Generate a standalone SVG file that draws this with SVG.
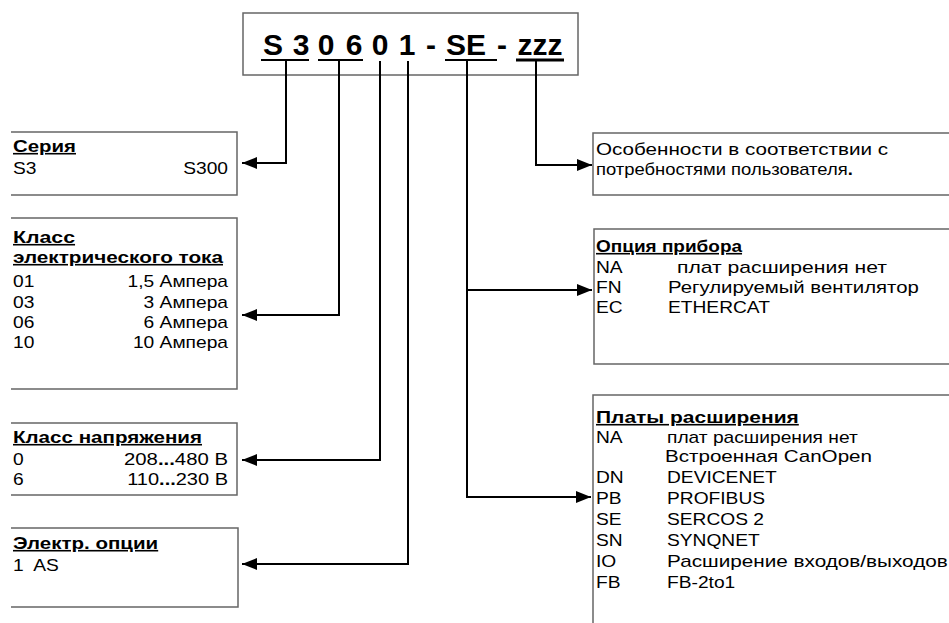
<svg xmlns="http://www.w3.org/2000/svg" width="949" height="623" viewBox="0 0 949 623">
<defs>
<marker id="arr" markerUnits="userSpaceOnUse" markerWidth="16" markerHeight="13" refX="15" refY="6.5" orient="auto">
<path d="M0,0.5 L15,6.5 L0,12.5 Z" fill="#000"/>
</marker>
<style>
text{font-family:"Liberation Sans",Arial,sans-serif;fill:#000}
.t{font-size:16px}
.b{font-size:16px;font-weight:bold;text-decoration:underline}
.e{text-anchor:end}
.big{font-size:30px;font-weight:bold;text-anchor:middle}
.box{fill:none;stroke:#666;stroke-width:1.5}
.ul{stroke:#000;stroke-width:2}
.con{fill:none;stroke:#000;stroke-width:2}
</style>
</defs>
<rect width="949" height="623" fill="#fff"/>

<g id="code">
<rect class="box" x="243" y="13" width="335" height="62"/>
<text class="big" x="273" y="55">S</text>
<text class="big" x="301" y="55">3</text>
<text class="big" x="326" y="55">0</text>
<text class="big" x="354" y="55">6</text>
<text class="big" x="380" y="55">0</text>
<text class="big" x="407" y="55">1</text>
<text class="big" x="431" y="55">-</text>
<text class="big" x="466" y="55">SE</text>
<text class="big" x="502" y="55">-</text>
<text class="big" x="540" y="55">zzz</text>
<line class="ul" x1="261" y1="60" x2="309" y2="60"/>
<line class="ul" x1="318" y1="60" x2="363" y2="60"/>
<line class="ul" x1="445" y1="60" x2="497" y2="60"/>
<line class="ul" x1="516" y1="60" x2="564" y2="60" style="stroke-width:3"/>
</g>

<g id="series">
<path class="box" d="M11,132 H237 V195 H11"/>
<text class="b" transform="matrix(1.2 0 0 1 13 152)" textLength="52.5" lengthAdjust="spacingAndGlyphs">Серия</text>
<text class="t" transform="matrix(1.2 0 0 1 13 174)">S3</text>
<text class="t e" transform="matrix(1.2 0 0 1 228 174)">S300</text>
</g>

<g id="current">
<path class="box" d="M11,218 H237 V389 H11"/>
<text class="b" transform="matrix(1.2 0 0 1 13 243)" textLength="51.7" lengthAdjust="spacingAndGlyphs">Класс</text>
<text class="b" transform="matrix(1.2 0 0 1 13 263)" textLength="175" lengthAdjust="spacingAndGlyphs">электрического тока</text>
<text class="t" transform="matrix(1.2 0 0 1 13 287)">01</text>
<text class="t e" transform="matrix(1.2 0 0 1 228 287)">1,5 Ампера</text>
<text class="t" transform="matrix(1.2 0 0 1 13 308)">03</text>
<text class="t e" transform="matrix(1.2 0 0 1 228 308)">3 Ампера</text>
<text class="t" transform="matrix(1.2 0 0 1 13 328)">06</text>
<text class="t e" transform="matrix(1.2 0 0 1 228 328)">6 Ампера</text>
<text class="t" transform="matrix(1.2 0 0 1 13 348)">10</text>
<text class="t e" transform="matrix(1.2 0 0 1 228 348)">10 Ампера</text>
</g>

<g id="voltage">
<path class="box" d="M11,423 H237 V495 H11"/>
<text class="b" transform="matrix(1.2 0 0 1 13 443)" textLength="157.5" lengthAdjust="spacingAndGlyphs">Класс напряжения</text>
<text class="t" transform="matrix(1.2 0 0 1 13 465)">0</text>
<text class="t e" transform="matrix(1.2 0 0 1 228 465)" textLength="86.7" lengthAdjust="spacingAndGlyphs">208<tspan font-weight="bold">...</tspan>480 В</text>
<text class="t" transform="matrix(1.2 0 0 1 13 485)">6</text>
<text class="t e" transform="matrix(1.2 0 0 1 228 485)" textLength="84" lengthAdjust="spacingAndGlyphs">110<tspan font-weight="bold">...</tspan>230 В</text>
</g>

<g id="electr">
<path class="box" d="M11,528 H238 V607 H11"/>
<text class="b" transform="matrix(1.2 0 0 1 13 549)" textLength="121" lengthAdjust="spacingAndGlyphs">Электр. опции</text>
<text class="t" transform="matrix(1.2 0 0 1 13 571)" xml:space="preserve">1  AS</text>
</g>

<g id="custom">
<path class="box" d="M949,133 H593 V195 H949"/>
<text class="t" transform="matrix(1.2 0 0 1 596 155)" textLength="243.3" lengthAdjust="spacingAndGlyphs">Особенности в соответствии с</text>
<text class="t" transform="matrix(1.2 0 0 1 596 175)" textLength="214" lengthAdjust="spacingAndGlyphs">потребностями пользователя<tspan font-weight="bold">.</tspan></text>
</g>

<g id="device">
<path class="box" d="M949,229 H594 V364 H949"/>
<text class="b" transform="matrix(1.2 0 0 1 596 252)" textLength="121.7" lengthAdjust="spacingAndGlyphs">Опция прибора</text>
<text class="t" transform="matrix(1.2 0 0 1 596 273)">NA</text>
<text class="t" transform="matrix(1.2 0 0 1 677 273)" textLength="175" lengthAdjust="spacingAndGlyphs">плат расширения нет</text>
<text class="t" transform="matrix(1.2 0 0 1 596 293)">FN</text>
<text class="t" transform="matrix(1.2 0 0 1 668 293)" textLength="209" lengthAdjust="spacingAndGlyphs">Регулируемый вентилятор</text>
<text class="t" transform="matrix(1.2 0 0 1 596 313)">EC</text>
<text class="t" transform="matrix(1.2 0 0 1 668 313)">ETHERCAT</text>
</g>

<g id="boards">
<path class="box" d="M949,395 H593 V623"/>
<text class="b" transform="matrix(1.2 0 0 1 596 423)" textLength="169" lengthAdjust="spacingAndGlyphs">Платы расширения</text>
<text class="t" transform="matrix(1.2 0 0 1 596 443)">NA</text>
<text class="t" transform="matrix(1.2 0 0 1 667 443)">плат расширения нет</text>
<text class="t" transform="matrix(1.2 0 0 1 665 462)" textLength="172.5" lengthAdjust="spacingAndGlyphs">Встроенная CanOpen</text>
<text class="t" transform="matrix(1.2 0 0 1 596 483)">DN</text>
<text class="t" transform="matrix(1.2 0 0 1 667 483)">DEVICENET</text>
<text class="t" transform="matrix(1.2 0 0 1 596 504)">PB</text>
<text class="t" transform="matrix(1.2 0 0 1 667 504)">PROFIBUS</text>
<text class="t" transform="matrix(1.2 0 0 1 596 525)">SE</text>
<text class="t" transform="matrix(1.2 0 0 1 667 525)">SERCOS 2</text>
<text class="t" transform="matrix(1.2 0 0 1 596 546)">SN</text>
<text class="t" transform="matrix(1.2 0 0 1 667 546)">SYNQNET</text>
<text class="t" transform="matrix(1.2 0 0 1 596 567)">IO</text>
<text class="t" transform="matrix(1.2 0 0 1 667 567)" textLength="234" lengthAdjust="spacingAndGlyphs">Расширение входов/выходов</text>
<text class="t" transform="matrix(1.2 0 0 1 596 588)">FB</text>
<text class="t" transform="matrix(1.2 0 0 1 667 588)">FB-2to1</text>
</g>

<g id="connectors">
<path class="con" d="M286,61 V163 H242" marker-end="url(#arr)"/>
<path class="con" d="M339,61 V315 H242" marker-end="url(#arr)"/>
<path class="con" d="M380,61 V460 H242" marker-end="url(#arr)"/>
<path class="con" d="M408,61 V564 H242" marker-end="url(#arr)"/>
<path class="con" d="M536,61 V165 H592" marker-end="url(#arr)"/>
<path class="con" d="M467,61 V497 H591" marker-end="url(#arr)"/>
<path class="con" d="M467,290 H592" marker-end="url(#arr)"/>
</g>
</svg>
